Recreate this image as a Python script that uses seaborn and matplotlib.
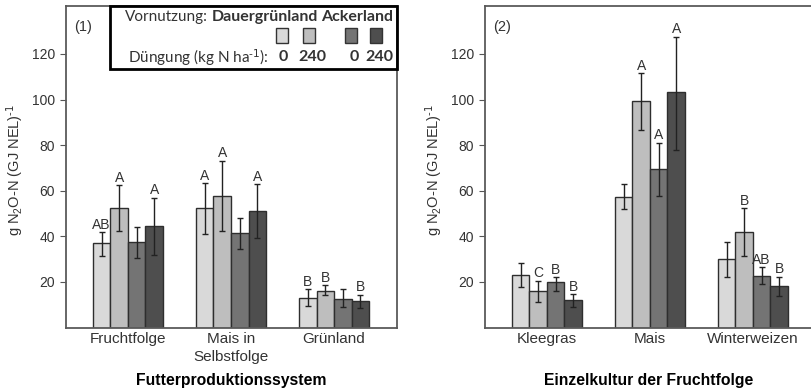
import matplotlib
matplotlib.use("Agg")
import matplotlib.pyplot as plt
import seaborn as sns
import pandas as pd
from matplotlib.patches import Rectangle

# Daten
systeme = ["Fruchtfolge", "Mais in\nSelbstfolge", "Grünland"]
kulturen = ["Kleegras", "Mais", "Winterweizen"]
varianten = ["DG 0", "DG 240", "AL 0", "AL 240"]
farben = ["#d9d9d9", "#bebebe", "#747474", "#4e4e4e"]

werte_1 = [[37.0, 52.3, 37.4, 44.6], [52.3, 57.7, 41.4, 51.1], [12.8, 16.2, 12.7, 11.7]]
oben_1 = [[41.8, 62.5, 44.3, 57.0], [63.3, 73.2, 48.2, 62.8], [16.8, 18.5, 16.8, 14.4]]
unten_1 = [[31.5, 42.4, 30.7, 31.8], [40.9, 42.5, 34.3, 39.2], [9.6, 14.2, 8.9, 8.7]]
buchst_1 = [["AB", "A", "", "A"], ["A", "A", "", "A"], ["B", "B", "", "B"]]

werte_2 = [[23.1, 16.1, 20.0, 12.1], [57.1, 99.4, 69.4, 103.5], [30.0, 41.8, 22.8, 18.2]]
oben_2 = [[28.2, 20.6, 22.1, 14.7], [62.8, 111.5, 81.1, 127.6], [37.7, 52.3, 26.4, 22.3]]
unten_2 = [[17.9, 11.4, 16.2, 9.2], [51.9, 86.7, 57.9, 77.9], [22.0, 31.4, 19.1, 13.9]]
buchst_2 = [["", "C", "B", "B"], ["", "A", "A", "A"], ["", "B", "AB", "B"]]

W, H = 811, 390
TXT = "#333333"

sns.set_style("white")
plt.rcParams["font.family"] = ["Liberation Sans", "DejaVu Sans"]
plt.rcParams["mathtext.default"] = "regular"

fig = plt.figure(figsize=(W / 100, H / 100), dpi=100)


def panel(ax, kategorien, werte, oben, unten, buchst, xlabel, nummer, xlim):
    df = pd.DataFrame([
        {"kat": k, "var": v, "wert": werte[i][j]}
        for i, k in enumerate(kategorien)
        for j, v in enumerate(varianten)
    ])
    sns.barplot(data=df, x="kat", y="wert", hue="var", palette=farben, saturation=1,
                width=0.68, gap=0, errorbar=None, edgecolor="#2e2e2e", linewidth=1,
                legend=False, ax=ax)

    balken = list(ax.containers)
    for j, cont in enumerate(balken):
        for i, bar in enumerate(cont):
            xc = bar.get_x() + bar.get_width() / 2
            w = werte[i][j]
            ax.errorbar([xc], [w], yerr=[[w - unten[i][j]], [oben[i][j] - w]], fmt="none",
                        ecolor="#222222", elinewidth=1, capsize=2, capthick=1, zorder=5)
            if buchst[i][j]:
                ax.text(xc, oben[i][j] + 0.2, buchst[i][j], ha="center", va="bottom",
                        fontsize=10, color=TXT, zorder=6)

    ax.set_ylim(0, 141)
    ax.set_xlim(*xlim)
    ax.set_yticks([20, 40, 60, 80, 100, 120])
    ax.tick_params(axis="y", length=4, color="#555555", labelsize=10, labelcolor=TXT, pad=4, left=True)
    ax.tick_params(axis="x", length=0, labelsize=11, labelcolor=TXT, pad=3.5)
    for lbl in ax.get_xticklabels():
        lbl.set_linespacing(1.3)
    for s in ax.spines.values():
        s.set_color("#5a5a5a")
        s.set_linewidth(1.3)
    ax.set_ylabel("g N$_2$O-N (GJ NEL)$^{\\text{-1}}$", fontsize=10.5, color=TXT)
    ax.yaxis.set_label_coords(-0.125, 0.49)
    ax.set_xlabel(xlabel, fontsize=11.3, fontweight="bold", color="black", va="center")
    ax.xaxis.set_label_coords(0.5, -0.166)
    ax.text(0.025, 0.955, nummer, transform=ax.transAxes, fontsize=10.5, color=TXT, va="top")


ax1 = fig.add_axes([66 / W, (H - 327.6) / H, 331 / W, 321.6 / H])
panel(ax1, systeme, werte_1, oben_1, unten_1, buchst_1, "Futterproduktionssystem", "(1)", (-0.6, 2.61))

ax2 = fig.add_axes([485 / W, (H - 327.6) / H, 327 / W, 321.6 / H])
panel(ax2, kulturen, werte_2, oben_2, unten_2, buchst_2, "Einzelkultur der Fruchtfolge", "(2)", (-0.6, 2.573))


# Legende oben rechts in Panel 1
def fx(x):
    return x / W


def fy(y):
    return 1 - y / H


fig.patches.append(Rectangle((fx(110), fy(69)), fx(397) - fx(110), fy(6) - fy(69),
                             transform=fig.transFigure, fill=False, edgecolor="black",
                             linewidth=2, zorder=10))
leg_font = ["Lato", "DejaVu Sans"]
fig.text(fx(125), fy(17), "Vornutzung:", fontsize=11, family=leg_font, color=TXT, va="center")
fig.text(fx(212), fy(17), "Dauergrünland", fontsize=11.5, family=leg_font, fontweight="bold",
         color=TXT, va="center")
fig.text(fx(393), fy(17), "Ackerland", fontsize=11.5, family=leg_font, fontweight="bold",
         color=TXT, va="center", ha="right")
fig.text(fx(128), fy(57), "Düngung (kg N ha$^{\\text{-1}}$):", fontsize=11, family=leg_font,
         color=TXT, va="center")
for xc, lab in zip([283, 312, 354, 379], ["0", "240", "0", "240"]):
    fig.text(fx(xc), fy(57), lab, fontsize=11.5, family=leg_font, fontweight="bold", color=TXT,
             va="center", ha="center")
for x0, c in zip([276, 303, 345, 370], farben):
    fig.patches.append(Rectangle((fx(x0), fy(43)), fx(12), fy(28) - fy(43),
                                 transform=fig.transFigure, facecolor=c, edgecolor="#333333",
                                 linewidth=1, zorder=10))

fig.savefig("out.png", dpi=100)
